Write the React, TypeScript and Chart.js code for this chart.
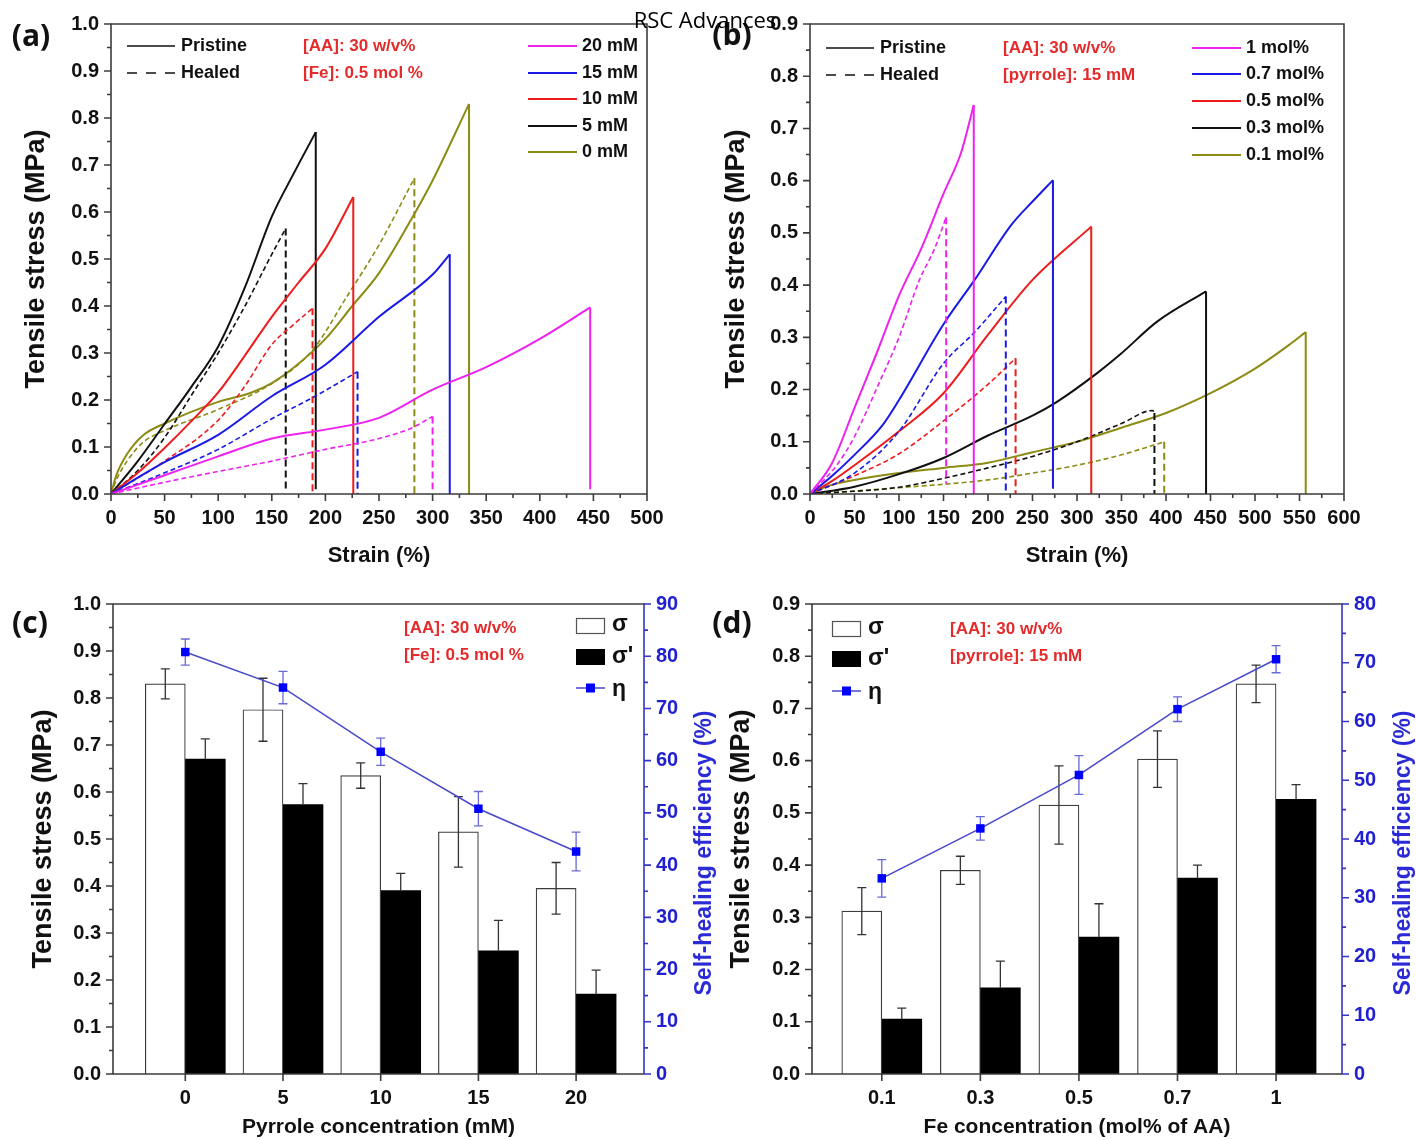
import React, { useEffect, useRef } from 'react';
import { Chart, registerables } from 'chart.js';

Chart.register(...registerables);

type Pt = [number, number];

// ---------------- Panel (a): pyrrole series ----------------
const strainTicksA = [0, 50, 100, 150, 200, 250, 300, 350, 400, 450, 500];
const stressTicksA = [0, 0.1, 0.2, 0.3, 0.4, 0.5, 0.6, 0.7, 0.8, 0.9, 1.0];
const labelsA = ['20 mM', '15 mM', '10 mM', '5 mM', '0 mM'];

const a20Pristine: Pt[] = [[0, 0], [50, 0.04], [100, 0.08], [150, 0.118], [200, 0.137], [250, 0.162], [300, 0.222], [350, 0.27], [400, 0.33], [447, 0.397], [447, 0.01]];
const a20Healed: Pt[] = [[0, 0], [50, 0.025], [100, 0.048], [150, 0.07], [200, 0.095], [250, 0.118], [280, 0.14], [300, 0.165], [300, 0.01]];
const a15Pristine: Pt[] = [[0, 0], [25, 0.035], [50, 0.068], [100, 0.126], [150, 0.208], [200, 0.275], [250, 0.377], [300, 0.467], [316, 0.51], [316, 0]];
const a15Healed: Pt[] = [[0, 0], [50, 0.045], [100, 0.095], [150, 0.16], [188, 0.205], [230, 0.26], [230, 0]];
const a10Pristine: Pt[] = [[0, 0], [25, 0.045], [50, 0.098], [75, 0.155], [100, 0.216], [125, 0.295], [150, 0.377], [175, 0.45], [200, 0.522], [226, 0.632], [226, 0]];
const a10Healed: Pt[] = [[0, 0], [50, 0.07], [100, 0.157], [125, 0.23], [150, 0.318], [170, 0.36], [188, 0.395], [188, 0]];
const a5Pristine: Pt[] = [[0, 0], [25, 0.07], [50, 0.149], [75, 0.228], [100, 0.314], [125, 0.44], [150, 0.59], [170, 0.68], [191, 0.77], [191, 0.01]];
const a5Healed: Pt[] = [[0, 0], [25, 0.05], [50, 0.12], [75, 0.21], [100, 0.3], [125, 0.4], [150, 0.51], [163, 0.565], [163, 0.01]];
const a0Pristine: Pt[] = [[0, 0], [5, 0.04], [15, 0.085], [30, 0.125], [50, 0.15], [100, 0.196], [130, 0.215], [150, 0.236], [170, 0.268], [200, 0.33], [225, 0.4], [250, 0.47], [284, 0.6], [300, 0.667], [334, 0.83], [334, 0]];
const a0Healed: Pt[] = [[0, 0], [5, 0.03], [15, 0.07], [30, 0.11], [50, 0.135], [100, 0.18], [150, 0.235], [188, 0.306], [220, 0.42], [250, 0.53], [283, 0.672], [283, 0]];

// ---------------- Panel (b): Fe series ----------------
const strainTicksB = [0, 50, 100, 150, 200, 250, 300, 350, 400, 450, 500, 550, 600];
const stressTicksB = [0, 0.1, 0.2, 0.3, 0.4, 0.5, 0.6, 0.7, 0.8, 0.9];
const labelsB = ['1 mol%', '0.7 mol%', '0.5 mol%', '0.3 mol%', '0.1 mol%'];

const b1Pristine: Pt[] = [[0, 0], [25, 0.06], [50, 0.165], [75, 0.27], [100, 0.38], [125, 0.47], [150, 0.575], [170, 0.655], [184, 0.745], [184, 0]];
const b1Healed: Pt[] = [[0, 0], [30, 0.055], [50, 0.11], [77, 0.21], [100, 0.3], [123, 0.41], [140, 0.47], [153, 0.53], [153, 0.02]];
const b07Pristine: Pt[] = [[0, 0], [25, 0.035], [50, 0.075], [82, 0.133], [100, 0.18], [150, 0.325], [185, 0.41], [226, 0.515], [250, 0.56], [273, 0.601], [273, 0.01]];
const b07Healed: Pt[] = [[0, 0], [50, 0.04], [100, 0.12], [150, 0.25], [185, 0.31], [220, 0.378], [220, 0]];
const b05Pristine: Pt[] = [[0, 0], [25, 0.025], [50, 0.055], [100, 0.12], [150, 0.193], [200, 0.305], [250, 0.41], [316, 0.512], [316, 0]];
const b05Healed: Pt[] = [[0, 0], [50, 0.035], [100, 0.077], [150, 0.14], [200, 0.21], [231, 0.26], [231, 0]];
const b03Pristine: Pt[] = [[0, 0], [50, 0.014], [100, 0.038], [150, 0.069], [200, 0.112], [250, 0.15], [277, 0.176], [323, 0.232], [349, 0.268], [390, 0.33], [445, 0.388], [445, 0]];
const b03Healed: Pt[] = [[0, 0], [100, 0.013], [150, 0.03], [200, 0.05], [250, 0.072], [300, 0.1], [350, 0.135], [385, 0.16], [387, 0.155], [387, 0]];
const b01Pristine: Pt[] = [[0, 0], [15, 0.012], [30, 0.02], [50, 0.027], [100, 0.04], [150, 0.05], [200, 0.06], [250, 0.08], [300, 0.1], [350, 0.127], [400, 0.155], [450, 0.193], [500, 0.24], [538, 0.285], [557, 0.31], [557, 0]];
const b01Healed: Pt[] = [[0, 0], [100, 0.012], [200, 0.027], [250, 0.04], [300, 0.055], [350, 0.075], [398, 0.1], [398, 0]];

// ---------------- Panel (c): pyrrole bars ----------------
const pyrroleLabels = ['0', '5', '10', '15', '20'];
const sigmaC = [0.83, 0.775, 0.635, 0.515, 0.395];
const sigmaCErr = [0.032, 0.067, 0.027, 0.075, 0.055];
const sigmaHealedC = [0.67, 0.573, 0.39, 0.262, 0.17];
const sigmaHealedCErr = [0.043, 0.045, 0.037, 0.065, 0.051];
const etaC = [80.8, 74, 61.7, 50.8, 42.6];
const etaCErr = [2.5, 3.1, 2.6, 3.3, 3.7];
const stressTicksC = [0, 0.1, 0.2, 0.3, 0.4, 0.5, 0.6, 0.7, 0.8, 0.9, 1.0];
const etaTicksC = [0, 10, 20, 30, 40, 50, 60, 70, 80, 90];

// ---------------- Panel (d): Fe bars ----------------
const feLabels = ['0.1', '0.3', '0.5', '0.7', '1'];
const sigmaD = [0.312, 0.39, 0.515, 0.603, 0.747];
const sigmaDErr = [0.045, 0.027, 0.075, 0.054, 0.036];
const sigmaHealedD = [0.105, 0.165, 0.262, 0.375, 0.526];
const sigmaHealedDErr = [0.021, 0.051, 0.064, 0.025, 0.028];
const etaD = [33.3, 41.8, 50.9, 62.1, 70.6];
const etaDErr = [3.2, 2.0, 3.3, 2.1, 2.3];
const stressTicksD = [0, 0.1, 0.2, 0.3, 0.4, 0.5, 0.6, 0.7, 0.8, 0.9];
const etaTicksD = [0, 10, 20, 30, 40, 50, 60, 70, 80];

// ---------------- styles ----------------
const SANS = '"Liberation Sans", Arial, Helvetica, sans-serif';
const OPEN = '"Open Sans", "Liberation Sans", sans-serif';
const seriesColors = ['#ee22ee', '#1a1ae6', '#ee1c1c', '#111111', '#8c8c14'];
const RED_TXT = '#e42a2a';
const BLUE_AX = '#3535c8';
const FRAME = '#3c3c3c';
const INK = '#111111';

const mids = (arr: number[]) => arr.slice(0, -1).map((v, i) => (v + arr[i + 1]) / 2);

function decorPlugin(spec: any) {
  return {
    id: 'decor',
    afterDraw(chart: any) {
      const ctx: CanvasRenderingContext2D = chart.ctx;
      const a = chart.chartArea;
      ctx.save();
      ctx.lineCap = 'butt';
      const hasRight = spec.axes.some((x: any) => x.side === 'right');
      ctx.strokeStyle = FRAME;
      ctx.lineWidth = 1.6;
      ctx.beginPath();
      ctx.moveTo(a.left, a.top);
      ctx.lineTo(a.right + 0.8, a.top);
      if (!hasRight) {
        ctx.moveTo(a.right, a.top);
        ctx.lineTo(a.right, a.bottom);
      }
      ctx.stroke();
      for (const ax of spec.axes) {
        const s = chart.scales[ax.id];
        ctx.strokeStyle = ax.color;
        ctx.lineWidth = 1.6;
        ctx.beginPath();
        const tick = (v: number, len: number) => {
          const p = s.getPixelForValue(v);
          if (ax.side === 'left') { ctx.moveTo(a.left, p); ctx.lineTo(a.left - len, p); }
          else if (ax.side === 'right') { ctx.moveTo(a.right, p); ctx.lineTo(a.right + len, p); }
          else { ctx.moveTo(p, a.bottom); ctx.lineTo(p, a.bottom + len); }
        };
        if (ax.side === 'left') { ctx.moveTo(a.left, a.top - 0.8); ctx.lineTo(a.left, a.bottom + 0.8); }
        else if (ax.side === 'right') { ctx.moveTo(a.right, a.top - 0.8); ctx.lineTo(a.right, a.bottom + 0.8); }
        else { ctx.moveTo(a.left, a.bottom); ctx.lineTo(a.right, a.bottom); }
        ax.majors.forEach((v: number) => tick(v, 7));
        ax.minors.forEach((v: number) => tick(v, 4));
        ctx.stroke();
      }
      for (const r of spec.rects || []) {
        ctx.fillStyle = r.fill;
        ctx.fillRect(r.x, r.y, r.w, r.h);
        if (r.stroke) {
          ctx.strokeStyle = r.stroke;
          ctx.lineWidth = 1.2;
          ctx.strokeRect(r.x + 0.5, r.y + 0.5, r.w - 1, r.h - 1);
        }
      }
      for (const l of spec.lines || []) {
        ctx.strokeStyle = l.color;
        ctx.lineWidth = l.width;
        ctx.setLineDash(l.dash || []);
        ctx.beginPath();
        ctx.moveTo(l.x1, l.y);
        ctx.lineTo(l.x2, l.y);
        ctx.stroke();
      }
      ctx.setLineDash([]);
      for (const m of spec.markers || []) {
        ctx.fillStyle = m.color;
        ctx.fillRect(m.x - m.size / 2, m.y - m.size / 2, m.size, m.size);
      }
      for (const t of spec.texts || []) {
        ctx.save();
        ctx.font = t.font;
        ctx.fillStyle = t.color || INK;
        ctx.textAlign = t.align || 'left';
        ctx.textBaseline = 'middle';
        ctx.translate(t.x, t.y);
        if (t.rot) ctx.rotate(t.rot);
        ctx.fillText(t.t, 0, 0);
        ctx.restore();
      }
      ctx.restore();
    },
  };
}

function drawErrors(chart: any, index: number) {
  const ds: any = chart.data.datasets[index];
  if (!ds.errors) return;
  const meta = chart.getDatasetMeta(index);
  const ys = chart.scales[meta.yAxisID];
  const ctx: CanvasRenderingContext2D = chart.ctx;
  ctx.save();
  ctx.strokeStyle = ds.errorColor;
  ctx.lineWidth = 1.3;
  meta.data.forEach((el: any, j: number) => {
    const v = ds.data[j].y;
    const e = ds.errors[j];
    const x = el.x;
    const yHi = ys.getPixelForValue(v + e);
    const yLo = ds.errorsUpperOnly ? ys.getPixelForValue(v) : ys.getPixelForValue(v - e);
    ctx.beginPath();
    ctx.moveTo(x, yHi); ctx.lineTo(x, yLo);
    ctx.moveTo(x - 4.5, yHi); ctx.lineTo(x + 4.5, yHi);
    if (!ds.errorsUpperOnly) { ctx.moveTo(x - 4.5, yLo); ctx.lineTo(x + 4.5, yLo); }
    ctx.stroke();
  });
  ctx.restore();
}

const errorBarsPlugin = {
  id: 'errorBars',
  beforeDatasetDraw(chart: any, args: any) {
    const ds: any = chart.data.datasets[args.index];
    if (ds.errors && ds.errorsBehind) drawErrors(chart, args.index);
  },
  afterDatasetDraw(chart: any, args: any) {
    const ds: any = chart.data.datasets[args.index];
    if (ds.errors && !ds.errorsBehind) drawErrors(chart, args.index);
  },
};

const font = (size: number, weight = 'bold', family = SANS) => ({ family, size, weight });

function valueAxis(o: any) {
  return {
    type: 'linear',
    position: o.position,
    min: o.min,
    max: o.max,
    offset: false,
    grid: { display: false, drawTicks: false },
    border: { display: false },
    afterBuildTicks: (s: any) => { s.ticks = o.ticks.map((v: number) => ({ value: v })); },
    afterFit: (s: any) => {
      if (o.width !== undefined) s.width = o.width;
      if (o.height !== undefined) s.height = o.height;
    },
    ticks: {
      autoSkip: false,
      maxRotation: 0,
      padding: o.padding,
      color: o.color || INK,
      font: font(20),
      callback: o.callback,
    },
    title: o.title
      ? { display: true, text: o.title, color: o.titleColor || INK, font: font(o.titleSize), padding: o.titlePadding }
      : { display: false },
  };
}

const toXY = (pts: Pt[]) => pts.map((p) => ({ x: p[0], y: p[1] }));

function strainConfig(o: any) {
  const datasets: any[] = [];
  o.series.forEach((s: any, i: number) => {
    // loading curve (smooth) + the fracture drop (straight)
    datasets.push({
      label: s.label + ' pristine', data: toXY(s.pristine.slice(0, -1)),
      borderColor: seriesColors[i], borderWidth: 2, pointRadius: 0, cubicInterpolationMode: 'monotone', fill: false,
    });
    datasets.push({
      label: s.label + ' pristine break', data: toXY(s.pristine.slice(-2)),
      borderColor: seriesColors[i], borderWidth: 2, pointRadius: 0, tension: 0, fill: false,
    });
    datasets.push({
      label: s.label + ' healed', data: toXY(s.healed.slice(0, -1)),
      borderColor: seriesColors[i], borderWidth: 1.6, borderDash: [5, 3], pointRadius: 0, cubicInterpolationMode: 'monotone', fill: false,
    });
    datasets.push({
      label: s.label + ' healed break', data: toXY(s.healed.slice(-2)),
      borderColor: seriesColors[i], borderWidth: 2, borderDash: [7, 4], pointRadius: 0, tension: 0, fill: false,
    });
  });
  const ar = o.area;
  return {
    type: 'line',
    data: { datasets },
    options: {
      animation: false,
      responsive: false,
      events: [],
      layout: { padding: { left: 0, top: ar.top, right: o.W - ar.right, bottom: 0 } },
      plugins: { legend: { display: false }, tooltip: { enabled: false } },
      scales: {
        x: valueAxis({
          position: 'bottom', min: o.xTicks[0], max: o.xTicks[o.xTicks.length - 1], ticks: o.xTicks,
          height: o.H - ar.bottom, padding: 12, callback: (v: number) => String(v),
          title: 'Strain (%)', titleSize: 22, titlePadding: { top: 0, bottom: o.xTitlePad },
        }),
        y: valueAxis({
          position: 'left', min: 0, max: o.yTicks[o.yTicks.length - 1], ticks: o.yTicks,
          width: ar.left, padding: 12, callback: (v: number) => Number(v).toFixed(1),
          title: 'Tensile stress (MPa)', titleSize: 27, titlePadding: { top: o.yTitlePad, bottom: 0 },
        }),
      },
    },
    plugins: [decorPlugin({
      axes: [
        { id: 'x', side: 'bottom', majors: o.xTicks, minors: mids(o.xTicks), color: FRAME },
        { id: 'y', side: 'left', majors: o.yTicks, minors: mids(o.yTicks), color: FRAME },
      ],
      ...o.decor,
    })],
  };
}

function barConfig(o: any) {
  const idx = o.labels.map((_: string, i: number) => i);
  const ar = o.area;
  const pts = (vals: number[]) => vals.map((v, i) => ({ x: idx[i], y: v }));
  return {
    type: 'bar',
    data: {
      datasets: [
        {
          type: 'line', label: 'η', data: pts(o.eta), yAxisID: 'y1',
          borderColor: '#4848c8', borderWidth: 1.5, tension: 0, fill: false,
          pointStyle: 'rect', pointRadius: 6, pointBackgroundColor: '#0000ff', pointBorderColor: '#0000ff', pointBorderWidth: 0,
          order: 0, errors: o.etaErr, errorColor: '#6a6ad6', errorsBehind: true,
        },
        {
          label: 'σ', data: pts(o.sigma), yAxisID: 'y', backgroundColor: '#ffffff', borderColor: '#3c3c3c', borderWidth: 1.2,
          barThickness: 40, order: 1, errors: o.sigmaErr, errorColor: '#333333',
        },
        {
          label: "σ'", data: pts(o.sigmaHealed), yAxisID: 'y', backgroundColor: '#000000', borderWidth: 0,
          barThickness: 40, order: 1, errors: o.sigmaHealedErr, errorColor: '#333333', errorsUpperOnly: true,
        },
      ],
    },
    options: {
      animation: false,
      responsive: false,
      events: [],
      layout: { padding: { left: 0, top: ar.top, right: 0, bottom: 0 } },
      plugins: { legend: { display: false }, tooltip: { enabled: false } },
      scales: {
        x: valueAxis({
          position: 'bottom', min: o.xMin, max: o.xMax, ticks: idx,
          height: o.H - ar.bottom, padding: 12, callback: (v: number) => o.labels[Math.round(v)] ?? '',
          title: o.xTitle, titleSize: 21, titlePadding: { top: 0, bottom: 0 },
        }),
        y: valueAxis({
          position: 'left', min: 0, max: o.yTicks[o.yTicks.length - 1], ticks: o.yTicks,
          width: ar.left, padding: 12, callback: (v: number) => Number(v).toFixed(1),
          title: 'Tensile stress (MPa)', titleSize: 27, titlePadding: { top: o.yTitlePad, bottom: 0 },
        }),
        y1: valueAxis({
          position: 'right', min: 0, max: o.etaTicks[o.etaTicks.length - 1], ticks: o.etaTicks,
          width: o.W - ar.right, padding: 12, color: '#2020d0', callback: (v: number) => String(Math.round(v)),
        }),
      },
    },
    plugins: [errorBarsPlugin, decorPlugin({
      axes: [
        { id: 'x', side: 'bottom', majors: idx, minors: [], color: FRAME },
        { id: 'y', side: 'left', majors: o.yTicks, minors: mids(o.yTicks), color: FRAME },
        { id: 'y1', side: 'right', majors: o.etaTicks, minors: mids(o.etaTicks), color: BLUE_AX },
      ],
      ...o.decor,
    })],
  };
}

const LEG = `bold 18px ${SANS}`;
const NOTE = `bold 17px ${SANS}`;
const PANEL = `bold 30px ${OPEN}`;
const SYM = `bold 23px ${SANS}`;

function strainLegend(o: any) {
  const texts: any[] = [
    { t: o.panel, x: o.panelX, y: o.panelY, font: PANEL, align: 'center' },
    { t: 'Pristine', x: o.lx + 54, y: o.rows[0], font: LEG },
    { t: 'Healed', x: o.lx + 54, y: o.rows[1], font: LEG },
    { t: o.note1, x: o.nx, y: o.rows[0], font: NOTE, color: RED_TXT },
    { t: o.note2, x: o.nx, y: o.rows[1], font: NOTE, color: RED_TXT },
  ];
  const lines: any[] = [
    { x1: o.lx, x2: o.lx + 48, y: o.rows[0], color: INK, width: 1.6 },
    { x1: o.lx, x2: o.lx + 48, y: o.rows[1], color: INK, width: 1.6, dash: [10, 9] },
  ];
  o.labels.forEach((lab: string, i: number) => {
    const y = o.rrows[i];
    lines.push({ x1: o.rx, x2: o.rx + 49, y, color: seriesColors[i], width: 2 });
    texts.push({ t: lab, x: o.rx + 54, y, font: LEG });
  });
  return { texts, lines };
}

function barLegend(o: any) {
  return {
    rects: [
      { x: o.lx, y: o.rows[0] - 8, w: 29, h: 16, fill: '#ffffff', stroke: '#555555' },
      { x: o.lx, y: o.rows[1] - 8, w: 29, h: 16, fill: '#000000' },
    ],
    lines: [{ x1: o.lx, x2: o.lx + 29, y: o.rows[2], color: '#4848c8', width: 1.5 }],
    markers: [{ x: o.lx + 14.5, y: o.rows[2], size: 9, color: '#0000ff' }],
    texts: [
      { t: o.panel, x: o.panelX, y: o.panelY, font: PANEL, align: 'center' },
      { t: 'σ', x: o.lx + 36, y: o.rows[0] - 1, font: SYM },
      { t: "σ'", x: o.lx + 36, y: o.rows[1], font: SYM },
      { t: 'η', x: o.lx + 36, y: o.rows[2] + 2, font: SYM },
      { t: o.note1, x: o.nx, y: o.nrows[0], font: NOTE, color: RED_TXT },
      { t: o.note2, x: o.nx, y: o.nrows[1], font: NOTE, color: RED_TXT },
      { t: 'Self-healing efficiency (%)', x: o.rtX, y: o.rtY, font: `bold 23px ${SANS}`, color: '#2a2ad6', align: 'center', rot: -Math.PI / 2 },
    ],
  };
}

// title padding = wanted centre x - lineHeight/2 (27px * 1.2 / 2 = 16.2)
function makeA() {
  return strainConfig({
    W: 700, H: 580, area: { left: 111, right: 647, top: 24, bottom: 494 },
    xTicks: strainTicksA, yTicks: stressTicksA, yTitlePad: 20.8, xTitlePad: 10.8,
    series: [
      { label: labelsA[0], pristine: a20Pristine, healed: a20Healed },
      { label: labelsA[1], pristine: a15Pristine, healed: a15Healed },
      { label: labelsA[2], pristine: a10Pristine, healed: a10Healed },
      { label: labelsA[3], pristine: a5Pristine, healed: a5Healed },
      { label: labelsA[4], pristine: a0Pristine, healed: a0Healed },
    ],
    decor: strainLegend({
      panel: '(a)', panelX: 31, panelY: 37, lx: 127, rows: [46, 73], nx: 303,
      note1: '[AA]: 30 w/v%', note2: '[Fe]: 0.5 mol %', rx: 528, rrows: [46, 73, 99, 126, 152], labels: labelsA,
    }),
  });
}

function makeB() {
  return strainConfig({
    W: 716, H: 580, area: { left: 110, right: 644, top: 24, bottom: 494 },
    xTicks: strainTicksB, yTicks: stressTicksB, yTitlePad: 20.8, xTitlePad: 10.8,
    series: [
      { label: labelsB[0], pristine: b1Pristine, healed: b1Healed },
      { label: labelsB[1], pristine: b07Pristine, healed: b07Healed },
      { label: labelsB[2], pristine: b05Pristine, healed: b05Healed },
      { label: labelsB[3], pristine: b03Pristine, healed: b03Healed },
      { label: labelsB[4], pristine: b01Pristine, healed: b01Healed },
    ],
    decor: strainLegend({
      panel: '(b)', panelX: 32, panelY: 36, lx: 126, rows: [48, 75], nx: 303,
      note1: '[AA]: 30 w/v%', note2: '[pyrrole]: 15 mM', rx: 492, rrows: [48, 74, 101, 128, 155], labels: labelsB,
    }),
  });
}

function makeC() {
  return barConfig({
    W: 720, H: 560, area: { left: 113, right: 644, top: 21, bottom: 494 },
    labels: pyrroleLabels, xMin: -0.74, xMax: 4.695, xTitle: 'Pyrrole concentration (mM)',
    yTicks: stressTicksC, etaTicks: etaTicksC, yTitlePad: 27.8,
    sigma: sigmaC, sigmaErr: sigmaCErr, sigmaHealed: sigmaHealedC, sigmaHealedErr: sigmaHealedCErr, eta: etaC, etaErr: etaCErr,
    decor: barLegend({
      panel: '(c)', panelX: 30, panelY: 44, lx: 576, rows: [46, 77, 108], nx: 404, nrows: [48, 75],
      note1: '[AA]: 30 w/v%', note2: '[Fe]: 0.5 mol %', rtX: 705, rtY: 273,
    }),
  });
}

function makeD() {
  return barConfig({
    W: 716, H: 560, area: { left: 112, right: 642, top: 21, bottom: 494 },
    labels: feLabels, xMin: -0.708, xMax: 4.669, xTitle: 'Fe concentration (mol% of AA)',
    yTicks: stressTicksD, etaTicks: etaTicksD, yTitlePad: 25,
    sigma: sigmaD, sigmaErr: sigmaDErr, sigmaHealed: sigmaHealedD, sigmaHealedErr: sigmaHealedDErr, eta: etaD, etaErr: etaDErr,
    decor: barLegend({
      panel: '(d)', panelX: 32, panelY: 44, lx: 132, rows: [49, 79, 111], nx: 250, nrows: [49, 76],
      note1: '[AA]: 30 w/v%', note2: '[pyrrole]: 15 mM', rtX: 704, rtY: 273,
    }),
  });
}

function Panel({ left, top, width, height, make }: { left: number; top: number; width: number; height: number; make: () => any }) {
  const ref = useRef<HTMLCanvasElement>(null);
  useEffect(() => {
    const chart = new Chart(ref.current as HTMLCanvasElement, make());
    return () => chart.destroy();
  }, []);
  return (
    <canvas
      ref={ref}
      width={width}
      height={height}
      style={{ position: 'absolute', left, top, width, height }}
    />
  );
}

export default function App() {
  return (
    <div style={{ position: 'absolute', left: 0, top: 0, width: 1416, height: 1140, background: '#ffffff', overflow: 'hidden' }}>
      <Panel left={0} top={0} width={700} height={580} make={makeA} />
      <Panel left={700} top={0} width={716} height={580} make={makeB} />
      <Panel left={0} top={580} width={720} height={560} make={makeC} />
      <Panel left={700} top={580} width={716} height={560} make={makeD} />
      <div
        style={{
          position: 'absolute', left: 0, top: 6, width: 1410, textAlign: 'center',
          font: `22px ${OPEN}`, lineHeight: '26px', color: '#000', zIndex: 5,
        }}
      >
        RSC Advances
      </div>
    </div>
  );
}
